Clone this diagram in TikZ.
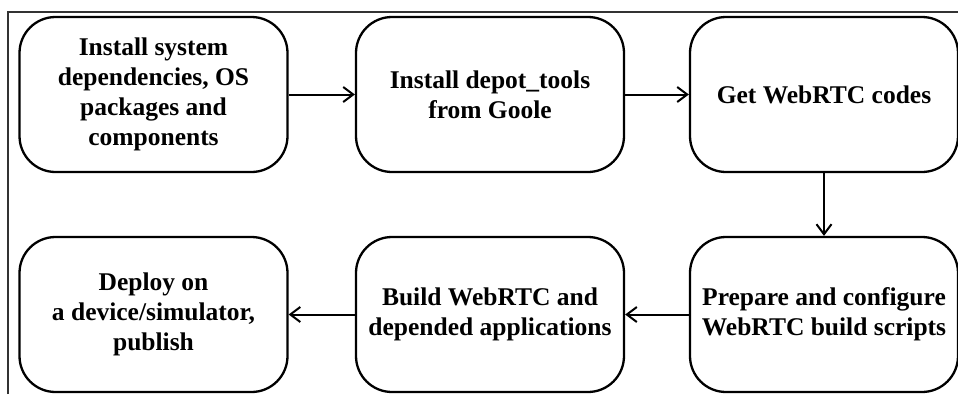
\documentclass[tikz,border=0pt]{standalone}
\usepackage{fontspec}
\setmainfont{Liberation Serif}
\usetikzlibrary{arrows.meta}

\tikzset{
    task/.style={
        draw,
        line width=2.3pt,
        rounded corners=36pt,
        minimum width=268pt,
        minimum height=155pt,
        inner sep=4pt,
        align=center,
        font=\fontsize{25.5}{30}\selectfont\bfseries
    },
    flow/.style={
        -{Straight Barb[length=10pt,width=15pt]},
        line width=2pt
    }
}

\begin{document}
\begin{tikzpicture}[x=1pt,y=-1pt]
    \useasboundingbox (0,0) rectangle (958,394);

    % Rahmen (nur oben und links sichtbar)
    \draw[line width=1.3pt,black!80] (8,394) -- (8,12) -- (958,12);

    % Obere Reihe
    \path
        node[task] at (153.5, 94.5) (deps)  {Install system\\dependencies, OS\\packages and\\components}
        node[task] at (490,   94.5) (tools) {Install depot\_tools\\from Goole}
        node[task] at (824,   94.5) (codes) {Get WebRTC codes};

    % Untere Reihe
    \path
        node[task] at (153.5,314.5) (deploy)  {Deploy on\\a device/simulator,\\publish}
        node[task] at (490,  314.5) (build)   {Build WebRTC and\\depended applications}
        node[task] at (824,  314.5) (prepare) {Prepare and configure\\WebRTC build scripts};

    % Ablauf
    \path[flow]
        (deps)    edge (tools)
        (tools)   edge (codes)
        (codes)   edge (prepare)
        (prepare) edge (build)
        (build)   edge (deploy);
\end{tikzpicture}
\end{document}
